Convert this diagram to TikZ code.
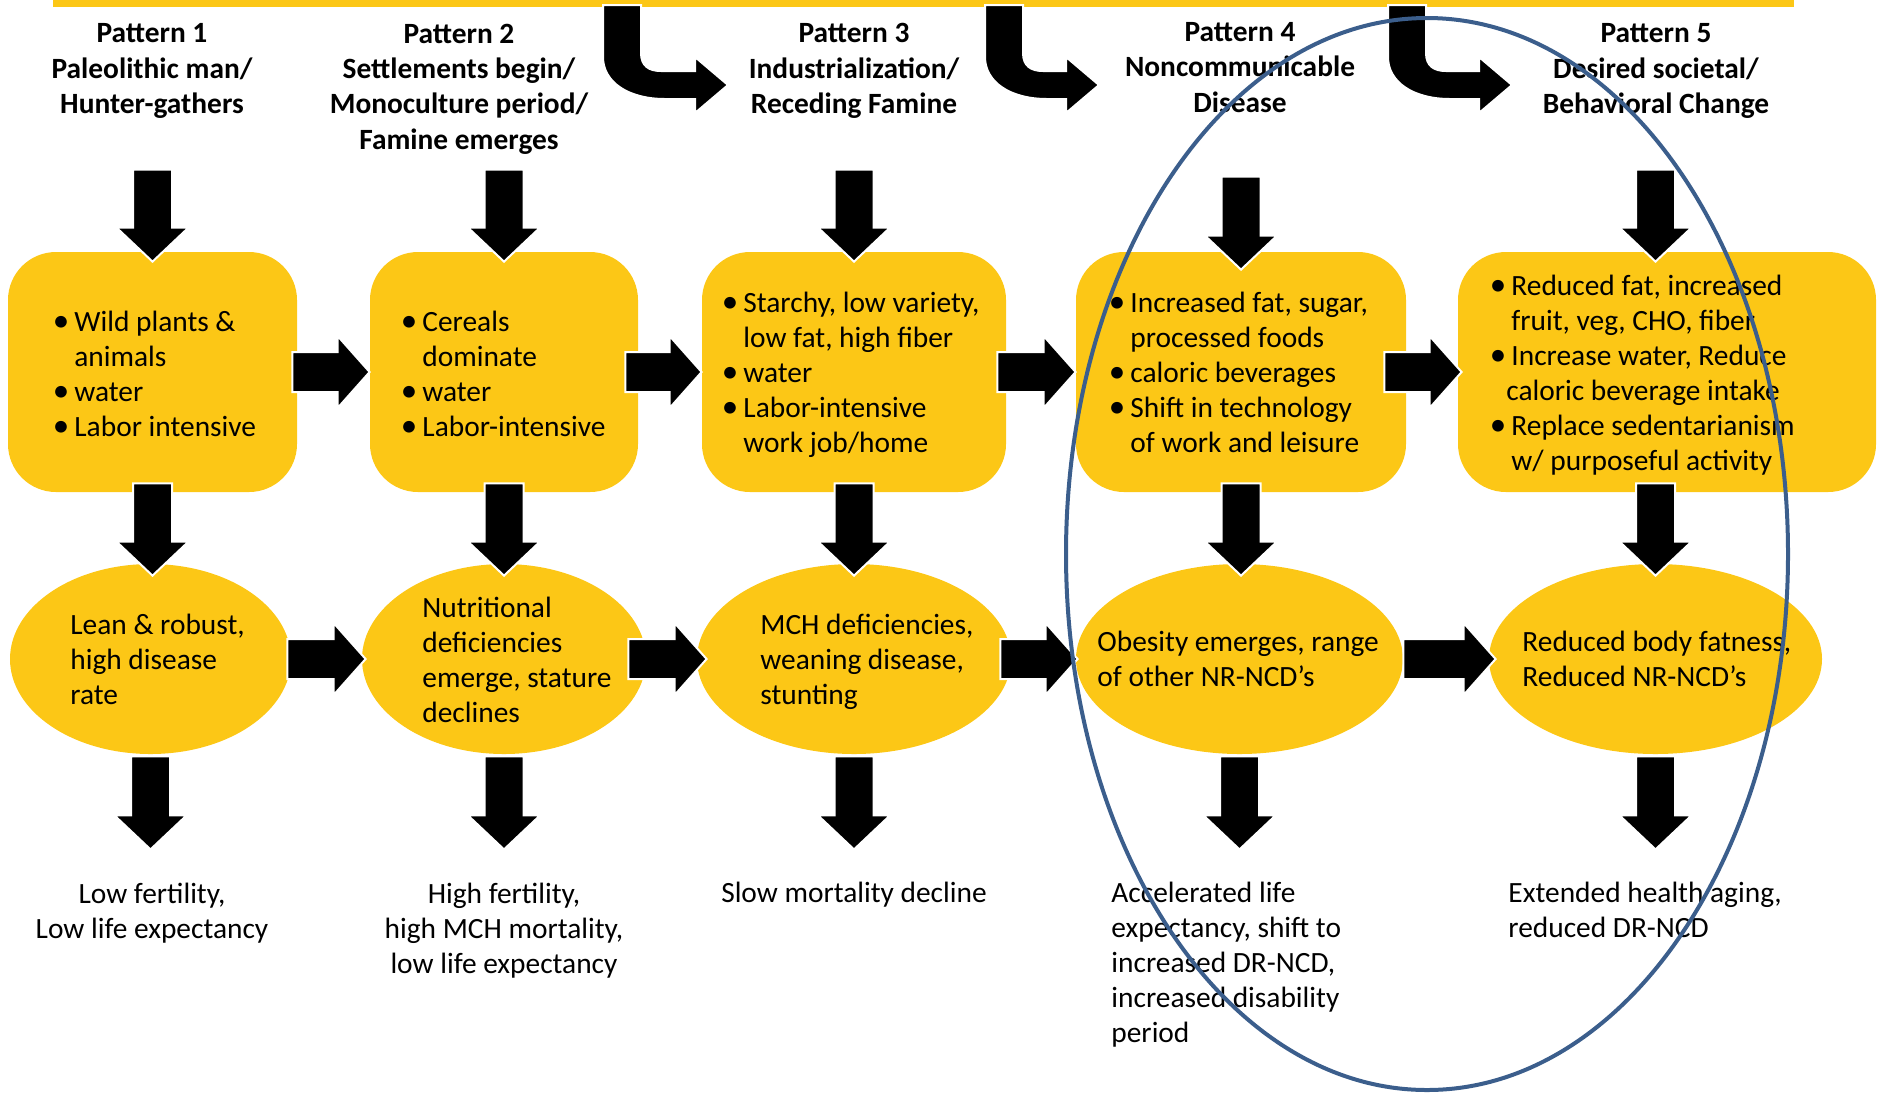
\documentclass[tikz,border=0pt]{standalone}
\usepackage{fontspec}
\setmainfont{Carlito}
\usetikzlibrary{calc,shapes.geometric}
\definecolor{gold}{RGB}{252,199,22}
\definecolor{ringblue}{RGB}{59,94,140}
\newcommand\bl{\makebox[9pt][l]{\hspace*{-1.8pt}{\fontsize{16.5}{17.5}\selectfont •}}}
\newcommand\ind{\hspace*{9pt}}
\newcommand\harr[2]{\path[blk] let \p1=#1, \p2=#2 in (\x1,\y1+10pt) -- (\x2-16pt,\y1+10pt) -- (\x2-16pt,\y1+18pt) -- (\x2,\y1) -- (\x2-16pt,\y1-18pt) -- (\x2-16pt,\y1-10pt) -- (\x1,\y1-10pt) -- cycle;}
\newcommand\varr[2]{\path[blk] let \p1=#1, \p2=#2 in (\x1-9.75pt,\y1) -- (\x1+9.75pt,\y1) -- (\x1+9.75pt,\y2+17pt) -- (\x1+18pt,\y2+17pt) -- (\x1,\y2) -- (\x1-18pt,\y2+17pt) -- (\x1-9.75pt,\y2+17pt) -- cycle;}
\newcommand\bentarr[2]{\path[blk] (#1,5) -- (#1+38,5) -- (#1+38,53) .. controls (#1+38,66) and (#1+46,71) .. (#1+58,71) -- (#2,71) -- (#2,57) -- (#2+33,85) -- (#2,113) -- (#2,99) -- (#1+62,99) .. controls (#1+25,99) and (#1,82) .. (#1,57) -- cycle;}
\begin{document}
\begin{tikzpicture}[x=0.5pt,y=-0.5pt,
  blk/.style={fill=black, draw=white, line width=1pt},
  txt/.style={inner sep=0pt, font=\fontsize{14.7}{17.5}\selectfont, align=left},
  hdr/.style={inner sep=0pt, font=\fontsize{14.7}{17.7}\selectfont\bfseries, align=center},
  boxnode/.style={rectangle, rounded corners=24pt, fill=gold, draw=none, minimum height=120pt, inner sep=0pt},
  ellnode/.style={ellipse, fill=gold, draw=none, minimum height=95pt, inner sep=0pt}]
\useasboundingbox (0,0) rectangle (1878,1094);

% top bar
\fill[gold] (53,0) rectangle (1794,7);
\bentarr{603}{695}
\bentarr{985}{1066}
\bentarr{1388}{1479}

% headers
\node[hdr] (H1) at (152,71) {Pattern 1\\Paleolithic man/\\Hunter-gathers};
\node[hdr] (H2) at (459,89) {Pattern 2\\Settlements begin/\\Monoculture period/\\Famine emerges};
\node[hdr] (H3) at (854,71) {Pattern 3\\Industrialization/\\Receding Famine};
\node[hdr] (H4) at (1240,67.5) {Pattern 4\\Noncommunicable\\Disease};
\node[hdr] (H5) at (1656,71) {Pattern 5\\Desired societal/\\Behavioral Change};

% boxes
\node[boxnode, minimum width=144.5pt] (B1) at (152.5,372) {};
\node[boxnode, minimum width=134pt] (B2) at (504,372) {};
\node[boxnode, minimum width=152pt] (B3) at (854,372) {};
\node[boxnode, minimum width=165pt] (B4) at (1241,372) {};
\node[boxnode, minimum width=209pt] (B5) at (1667,372) {};

% ellipses
\node[ellnode, minimum width=140.5pt] (E1) at (150.5,659) {};
\node[ellnode, minimum width=142pt] (E2) at (504,659) {};
\node[ellnode, minimum width=157pt] (E3) at (854,659) {};
\node[ellnode, minimum width=163.5pt] (E4) at (1239.5,659) {};
\node[ellnode, minimum width=166.5pt] (E5) at (1655.5,659) {};

% arrows header -> box
\varr{($(B1.north)+(0,-82)$)}{($(B1.north)+(0,10)$)}
\varr{($(B2.north)+(0,-82)$)}{($(B2.north)+(0,10)$)}
\varr{($(B3.north)+(0,-82)$)}{($(B3.north)+(0,10)$)}
\varr{($(B4.north)+(0,-75)$)}{($(B4.north)+(0,18)$)}
\varr{($(B5.north -| E5.center)+(0,-82)$)}{($(B5.north -| E5.center)+(0,10)$)}

% arrows box -> box
\harr{($(B1.east)+(-5,0)$)}{(B2.west)}
\harr{($(B2.east)+(-13,0)$)}{(B3.west)}
\harr{($(B3.east)+(-9,0)$)}{(B4.west)}
\harr{($(B4.east)+(-22,0)$)}{($(B5.west)+(4,0)$)}

% arrows box -> ellipse
\varr{($(B1.south)+(0,-9)$)}{($(E1.north)+(0,12)$)}
\varr{($(B2.south)+(0,-9)$)}{($(E2.north)+(0,12)$)}
\varr{($(B3.south)+(0,-9)$)}{($(E3.north)+(0,12)$)}
\varr{($(B4.south)+(0,-9)$)}{($(E4.north)+(0,12)$)}
\varr{($(B5.south -| E5.center)+(0,-9)$)}{($(E5.north)+(0,12)$)}

% arrows ellipse -> ellipse
\harr{($(E1.east)+(-4,0)$)}{($(E2.west)+(4,0)$)}
\harr{($(E2.east)+(-18,0)$)}{($(E3.west)+(10,0)$)}
\harr{($(E3.east)+(-11,0)$)}{($(E4.west)+(2,0)$)}
\harr{($(E4.east)+(0,0)$)}{($(E5.west)+(7,0)$)}

% arrows ellipse -> outcome
\varr{($(E1.south)+(0,2)$)}{($(E1.south)+(0,95)$)}
\varr{($(E2.south)+(0,2)$)}{($(E2.south)+(0,95)$)}
\varr{($(E3.south)+(0,2)$)}{($(E3.south)+(0,95)$)}
\varr{($(E4.south)+(0,2)$)}{($(E4.south)+(0,95)$)}
\varr{($(E5.south)+(0,2)$)}{($(E5.south)+(0,95)$)}

% box texts
\node[txt, anchor=west] (T1) at (56,374) {\bl Wild plants \&\\\ind animals\\\bl water\\\bl Labor intensive};
\node[txt, anchor=west] (T2) at (404,374) {\bl Cereals\\\ind dominate\\\bl water\\\bl Labor-intensive};
\node[txt, anchor=west] (T3) at (725,375) {\bl Starchy, low variety,\\\ind low fat, high fiber\\\bl water\\\bl Labor-intensive\\\ind work job/home};
\node[txt, anchor=west] (T4) at (1112,372) {\bl Increased fat, sugar,\\\ind processed foods\\\bl caloric beverages\\\bl Shift in technology\\\ind of work and leisure};
\node[txt, anchor=west] (T5) at (1493,375) {\bl Reduced fat, increased\\\ind fruit, veg, CHO, fiber\\\bl Increase water, Reduce\\\hspace*{6.5pt}caloric beverage intake\\\bl Replace sedentarianism\\\ind w/ purposeful activity};

% ellipse texts
\node[txt, anchor=west] (S1) at (70,659) {Lean \& robust,\\high disease\\rate};
\node[txt, anchor=west] (S2) at (422,660) {Nutritional\\deficiencies\\emerge, stature\\declines};
\node[txt, anchor=west] (S3) at (760,662) {MCH deficiencies,\\weaning disease,\\stunting};
\node[txt, anchor=west] (S4) at (1097,659) {Obesity emerges, range\\of other NR-NCD’s};
\node[txt, anchor=west] (S5) at (1522,659) {Reduced body fatness,\\Reduced NR-NCD’s};

% outcome texts
\node[txt, align=center] (L1) at (152,913) {Low fertility,\\Low life expectancy};
\node[txt, align=center] (L2) at (504,931) {High fertility,\\high MCH mortality,\\low life expectancy};
\node[txt, align=center] (L3) at (854,895) {Slow mortality decline};
\node[txt, anchor=west] (L4) at (1111,965) {Accelerated life\\expectancy, shift to\\increased DR-NCD,\\increased disability\\period};
\node[txt, anchor=west] (L5) at (1508,910) {Extended health aging,\\reduced DR-NCD};

% highlight ring
\draw[ringblue, line width=2pt] (1427,554) ellipse [x radius=180.5pt, y radius=268pt];
\end{tikzpicture}
\end{document}
